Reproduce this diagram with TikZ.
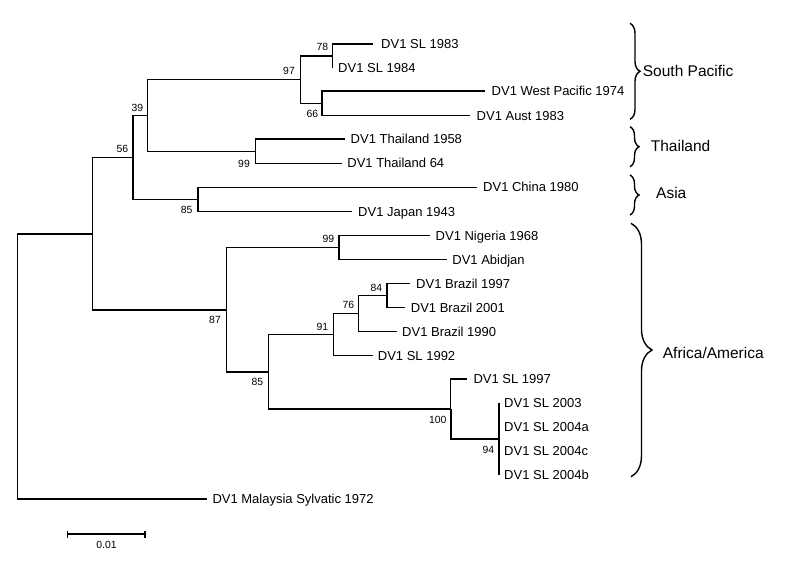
\documentclass[tikz,border=0pt]{standalone}
\usepackage{fontspec}
\setmainfont{Liberation Sans}
\usetikzlibrary{decorations.pathreplacing}
\begin{document}
\begin{tikzpicture}[x=1pt,y=-1pt,
  branch/.style={line width=1.35pt},
  thickbranch/.style={line width=1.9pt},
  leaf/.style={anchor=base west,inner sep=0pt,font=\fontsize{13}{13}\selectfont},
  boot/.style={anchor=east,inner sep=0pt,font=\fontsize{10.4}{10}\selectfont},
  clade/.style={anchor=west,inner sep=0pt,font=\fontsize{15.5}{16}\selectfont},
  bracebox/.style={line width=1.4pt,decorate,decoration={brace,amplitude=#1}}]
\fill[white] (0,0) rectangle (792,564);
\useasboundingbox (0,0) rectangle (792,564);
% internal nodes
\coordinate (r) at (17.3,366.5);
\coordinate (a) at (92.3,233.9);
\coordinate (n56) at (133,157.8);
\coordinate (n39) at (147.3,115.8);
\coordinate (n97) at (300.7,79.6);
\coordinate (n78) at (332.7,56);
\coordinate (n66) at (322,103.3);
\coordinate (n99t) at (255.3,151.2);
\coordinate (n85a) at (198,199.5);
\coordinate (n87) at (226.7,310);
\coordinate (n99a) at (339,247.7);
\coordinate (n85b) at (268.3,372);
\coordinate (n91) at (333.7,334.5);
\coordinate (n76) at (358.7,313.5);
\coordinate (n84) at (387,295.5);
\coordinate (n100) at (450.7,409);
\coordinate (n94) at (499,439);
% leaf ends
\coordinate (l83) at (372.7,44);
\coordinate (l84) at (332.7,68);
\coordinate (lwp) at (485,91);
\coordinate (laus) at (470,115.7);
\coordinate (lt58) at (345,139);
\coordinate (lt64) at (341.7,163.3);
\coordinate (lchi) at (476.7,187.3);
\coordinate (ljap) at (351.7,211.7);
\coordinate (lnig) at (430,235.7);
\coordinate (labi) at (446.7,259.7);
\coordinate (lb97) at (410,283.5);
\coordinate (lb01) at (405,307.5);
\coordinate (lb90) at (397,331.7);
\coordinate (l92) at (372.7,355.3);
\coordinate (l97) at (467.3,379);
\coordinate (l03) at (499,403);
\coordinate (l04a) at (499,427);
\coordinate (l04c) at (499,451);
\coordinate (l04b) at (499,475);
\coordinate (lmal) at (206.7,499);
% branches
\draw[branch] (r) |- (a);
\draw[branch] (r) |- (lmal);
\draw[branch] (a) |- (n56);
\draw[branch] (a) |- (n87);
\draw[branch] (n56) |- (n39);
\draw[branch] (n56) |- (n85a);
\draw[thickbranch] (n56|-n39) -- (n56|-n85a);
\draw[branch] (n39) |- (n97);
\draw[branch] (n39) |- (n99t);
\draw[branch] (n97) |- (n78);
\draw[branch] (n97) |- (n66);
\draw[branch] (n78) |- (l83);
\draw[branch] (n78) |- (l84);
\draw[branch] (n66) |- (lwp);
\draw[branch] (n66) |- (laus);
\draw[branch] (n99t) |- (lt58);
\draw[branch] (n99t) |- (lt64);
\draw[branch] (n85a) |- (lchi);
\draw[branch] (n85a) |- (ljap);
\draw[branch] (n87) |- (n99a);
\draw[branch] (n87) |- (n85b);
\draw[branch] (n99a) |- (lnig);
\draw[branch] (n99a) |- (labi);
\draw[branch] (n85b) |- (n91);
\draw[branch] (n85b) |- (n100);
\draw[branch] (n91) |- (n76);
\draw[branch] (n91) |- (l92);
\draw[branch] (n76) |- (n84);
\draw[branch] (n76) |- (lb90);
\draw[branch] (n84) |- (lb97);
\draw[branch] (n84) |- (lb01);
\draw[branch] (n100) |- (l97);
\draw[thickbranch] (n100) |- (n94);
\draw[thickbranch] (l03) -- (l04b);
% leaf labels
\node[leaf] (t83) at ([shift={(8.3,4.7)}]l83) {DV1 SL 1983};
\node[leaf] (t84) at ([shift={(5.3,4.7)}]l84) {DV1 SL 1984};
\node[leaf] (twp) at ([shift={(6.5,4.7)}]lwp) {DV1 West Pacific 1974};
\node[leaf] (taus) at ([shift={(6.5,4.7)}]laus) {DV1 Aust 1983};
\node[leaf] (tt58) at ([shift={(5.5,4.7)}]lt58) {DV1 Thailand 1958};
\node[leaf] (tt64) at ([shift={(5.5,4.7)}]lt64) {DV1 Thailand 64};
\node[leaf] (tchi) at ([shift={(6.3,4.7)}]lchi) {DV1 China 1980};
\node[leaf] (tjap) at ([shift={(6.3,4.7)}]ljap) {DV1 Japan 1943};
\node[leaf] (tnig) at ([shift={(5.5,4.7)}]lnig) {DV1 Nigeria 1968};
\node[leaf] (tabi) at ([shift={(5.5,4.7)}]labi) {DV1 Abidjan};
\node[leaf] (tb97) at ([shift={(6,4.7)}]lb97) {DV1 Brazil 1997};
\node[leaf] (tb01) at ([shift={(5.7,4.7)}]lb01) {DV1 Brazil 2001};
\node[leaf] (tb90) at ([shift={(5,4.7)}]lb90) {DV1 Brazil 1990};
\node[leaf] (t92) at ([shift={(5,4.7)}]l92) {DV1 SL 1992};
\node[leaf] (t97) at ([shift={(6,4.7)}]l97) {DV1 SL 1997};
\node[leaf] (t03) at ([shift={(5,4.7)}]l03) {DV1 SL 2003};
\node[leaf] (t04a) at ([shift={(5,4.7)}]l04a) {DV1 SL 2004a};
\node[leaf] (t04c) at ([shift={(5,4.7)}]l04c) {DV1 SL 2004c};
\node[leaf] (t04b) at ([shift={(5,4.7)}]l04b) {DV1 SL 2004b};
\node[leaf] (tmal) at ([shift={(5.6,4.7)}]lmal) {DV1 Malaysia Sylvatic 1972};
% bootstrap values
\node[boot] (b78) at (328.3,47) {78};
\node[boot] (b97) at (295,71) {97};
\node[boot] (b66) at (318.3,113.5) {66};
\node[boot] (b39) at (143.3,107.7) {39};
\node[boot] (b99t) at (250,164) {99};
\node[boot] (b56) at (128.3,148.5) {56};
\node[boot] (b85a) at (192.7,209.5) {85};
\node[boot] (b99a) at (334.3,239) {99};
\node[boot] (b84) at (382.3,287.5) {84};
\node[boot] (b76) at (354.3,304.5) {76};
\node[boot] (b91) at (328.3,326.5) {91};
\node[boot] (b87) at (221,320) {87};
\node[boot] (b85b) at (263.3,382) {85};
\node[boot] (b100) at (446.7,420) {100};
\node[boot] (b94) at (494.3,450) {94};
% clade braces
\coordinate (sp1) at (630,23.3);
\coordinate (sp2) at (630,119.3);
\coordinate (th1) at (630,126.7);
\coordinate (th2) at (630,166.7);
\coordinate (as1) at (630,175);
\coordinate (as2) at (630,215);
\coordinate (af1) at (631,223.3);
\coordinate (af2) at (631,476.7);
\draw[bracebox=10pt] (sp1) -- (sp2);
\draw[bracebox=9pt] (th1) -- (th2);
\draw[bracebox=9pt] (as1) -- (as2);
\draw[bracebox=21pt] (af1) -- (af2);
\node[clade] (csp) at (642.7,71) {South Pacific};
\node[clade] (cth) at (650.7,146) {Thailand};
\node[clade] (cas) at (656,193.3) {Asia};
\node[clade] (caf) at (662.7,353) {Africa/America};
% scale bar
\coordinate (s1) at (67.7,534);
\coordinate (s2) at (145,534);
\draw[branch] (s1) -- (s2);
\draw[branch] ([yshift=3.5pt]s1) -- ([yshift=-3.5pt]s1);
\draw[branch] ([yshift=3.5pt]s2) -- ([yshift=-3.5pt]s2);
\node[inner sep=0pt,font=\fontsize{10.4}{10}\selectfont] (slab) at (106.5,545) {0.01};
\end{tikzpicture}
\end{document}
